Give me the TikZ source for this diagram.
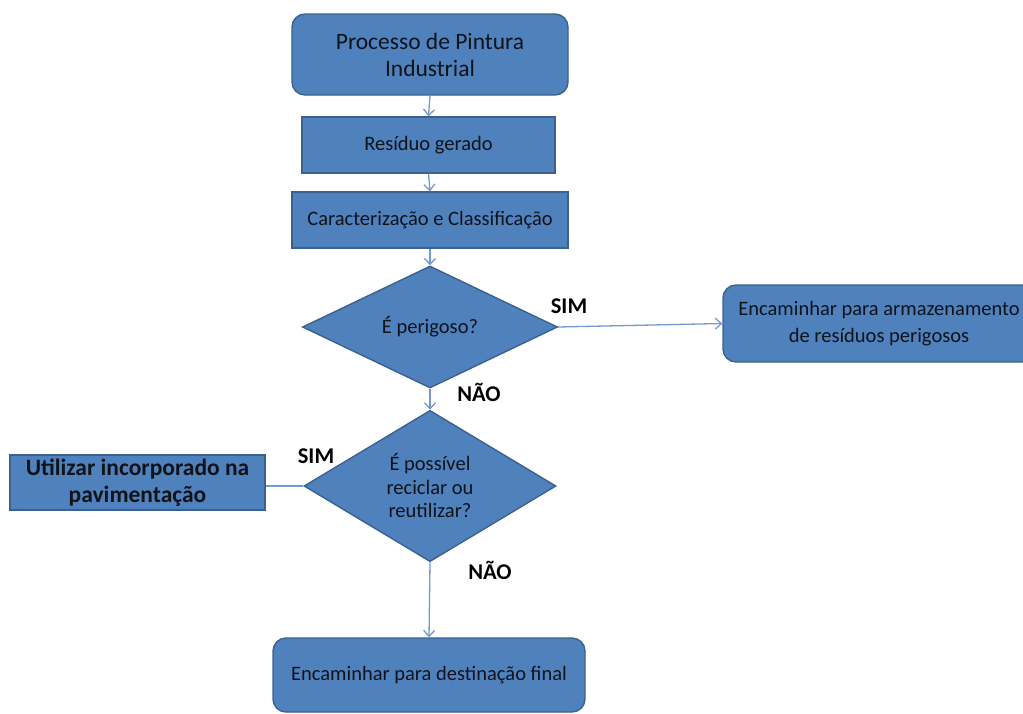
\documentclass[tikz,border=0pt]{standalone}
\usepackage{fontspec}
\setmainfont{Carlito}
\usetikzlibrary{shapes.geometric,arrows.meta}
\definecolor{boxfill}{HTML}{4F81BD}
\definecolor{boxline}{HTML}{3A6190}
\definecolor{arrowc}{HTML}{7499CC}
\definecolor{txt}{HTML}{10131A}
\tikzset{
  base/.style={draw=boxline, line width=1.4pt, fill=boxfill, text=txt, align=center, inner sep=0pt,
    font=\fontsize{20.5}{24}\selectfont},
  rbox/.style={base, rectangle, rounded corners=13pt},
  sbox/.style={base, rectangle},
  decision/.style={base, diamond, inner sep=0pt},
  conn/.style={draw=arrowc, line width=1.3pt, -{Straight Barb[length=6pt,width=11pt,line width=1.3pt]}},
  plainconn/.style={draw=arrowc, line width=1.3pt},
  lbl/.style={font=\fontsize{22.5}{24}\selectfont\bfseries, text=black}
}
\begin{document}
\begin{tikzpicture}[x=1pt,y=-1pt]
\clip (0,0) rectangle (1023,713);
\fill[white] (0,0) rectangle (1023,713);

\node[rbox, minimum width=276pt, minimum height=81pt, font=\fontsize{23.5}{27}\selectfont] (top) at (430,54.5) {Processo de Pintura\\Industrial};
\node[sbox, minimum width=253pt, minimum height=56pt] (res) at (428.5,145) {Resíduo gerado};
\node[sbox, minimum width=276pt, minimum height=56pt] (car) at (430,220) {Caracterização e Classificação};
\node[decision, minimum width=255pt, minimum height=122pt] (d1) at (430,327) {É perigoso?};
\node[decision, minimum width=252pt, minimum height=142pt, font=\fontsize{20.5}{23.5}\selectfont] (d2) at (430,486) {É possível\\reciclar ou\\reutilizar?};
\node[rbox, minimum width=312pt, minimum height=77pt, font=\fontsize{20.5}{26.5}\selectfont] (store) at (879,323.5) {Encaminhar para armazenamento\\de resíduos perigosos};
\node[sbox, minimum width=255pt, minimum height=55pt, font=\fontsize{23.5}{26.5}\selectfont\bfseries] (util) at (137.5,482.5) {Utilizar incorporado na\\pavimentação};
\node[rbox, minimum width=312pt, minimum height=74pt] (final) at (429,675) {Encaminhar para destinação final};

\draw[conn] (top.south) -- (res.north);
\draw[conn] (res.south) -- (car.north);
\draw[conn] (car.south) -- (d1.north);
\draw[conn] (d1.east) -- (store.west);
\draw[conn] (d1.south) -- (d2.north);
\draw[plainconn] (d2.west) -- (d2.west -| util.east);
\draw[conn] (d2.south) -- (final.north);

\node[lbl] (sim1) at (569,306) {SIM};
\node[lbl] (nao1) at (479,392) {NÃO};
\node[lbl] (sim2) at (316,456) {SIM};
\node[lbl] (nao2) at (490,570) {NÃO};
\end{tikzpicture}
\end{document}
